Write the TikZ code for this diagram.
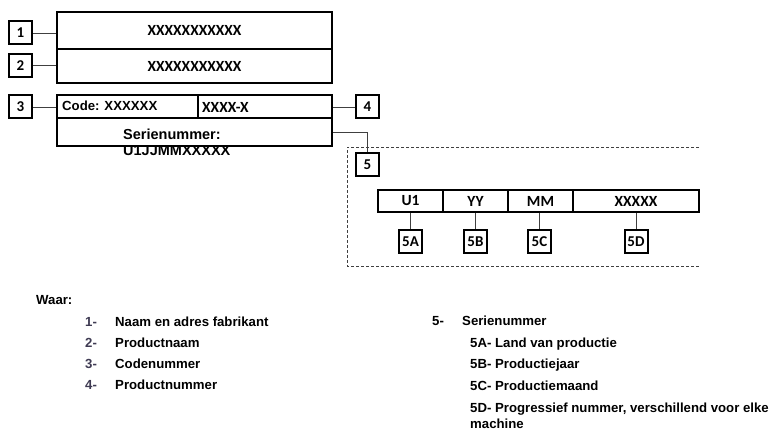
\documentclass[tikz,border=0pt]{standalone}
\usepackage{fontspec}
\newfontfamily\calfont{Carlito}
\newfontfamily\arfont{Liberation Sans}
\definecolor{numcol}{HTML}{3E3A52}
\definecolor{linecol}{HTML}{404040}
\begin{document}
\begin{tikzpicture}[x=1pt,y=-1pt,
  box/.style={draw=black,line width=2pt,inner sep=0pt,font=\calfont\bfseries\fontsize{15.5}{18}\selectfont},
  lab/.style={draw=black,line width=2pt,inner sep=0pt,minimum width=23,minimum height=23,font=\calfont\bfseries\fontsize{15}{18}\selectfont},
  conn/.style={draw=linecol,line width=0.9pt},
  dashbox/.style={draw=linecol,line width=0.8pt,dash pattern=on 3pt off 2pt},
  txt/.style={inner sep=0pt,anchor=west,font=\arfont\bfseries\fontsize{13.2}{15.5}\selectfont},
  num/.style={txt,text=numcol}]
\useasboundingbox (0,0) rectangle (774,430);
% top boxes
\node[box,minimum width=275,minimum height=37] (b1) at (194.5,30.5) {XXXXXXXXXXX};
\node[box,minimum width=275,minimum height=34] (b2) at (194.5,66) {XXXXXXXXXXX};
% code row
\node[box,minimum width=141,minimum height=23] (c3) at (127.5,106.5) {};
\node[box,minimum width=134,minimum height=23] (c4) at (265,106.5) {};
\node[box,minimum width=275,minimum height=28] (sn) at (194.5,132) {};
\node[txt] (c3t) at (62,105.5) {Code: XXXXXX};
\node[txt,font=\calfont\bfseries\fontsize{15.5}{18}\selectfont] (c4t) at (202,107) {XXXX-X};
\node[inner sep=0pt,anchor=north west,align=left,font=\arfont\bfseries\fontsize{14.5}{16}\selectfont] (snt) at (123,128.5) {Serienummer:\\U1JJMMXXXXX};
% labels
\node[lab] (l1) at (20.5,33) {1};
\node[lab] (l2) at (20.5,65.5) {2};
\node[lab] (l3) at (20.5,107) {3};
\node[lab] (l4) at (367.5,107) {4};
\node[lab] (l5) at (367.5,165) {5};
\draw[conn] (l1.east) -- (l1.east -| b1.west);
\draw[conn] (l2.east) -- (l2.east -| b2.west);
\draw[conn] (l3.east) -- (l3.east -| c3.west);
\draw[conn] (l4.west) -- (l4.west -| c4.east);
\draw[conn] (sn.east) -| (l5.north);
% dashed frame
\coordinate (dtr) at (699,147);
\coordinate (dbr) at (699,266);
\draw[dashbox] (dtr) -- (347,147) -- (347,266) -- (dbr);
% serial cells
\node[box,minimum width=65,minimum height=22] (u1) at (410.5,201) {U1};
\node[box,minimum width=65,minimum height=22] (yy) at (475.5,201) {YY};
\node[box,minimum width=65,minimum height=22] (mm) at (540.5,201) {MM};
\node[box,minimum width=126,minimum height=22] (xx) at (636,201) {XXXXX};
\node[lab] (l5a) at (410.5,241.5) {5A};
\node[lab] (l5b) at (475.5,241.5) {5B};
\node[lab] (l5c) at (539.5,241.5) {5C};
\node[lab] (l5d) at (636,241.5) {5D};
\draw[conn] (u1.south) -- (l5a.north);
\draw[conn] (yy.south) -- (l5b.north);
\draw[conn] (l5c.north |- mm.south) -- (l5c.north);
\draw[conn] (xx.south) -- (l5d.north);
% legend
\node[txt] (waar) at (36,300) {Waar:};
\node[num] (n1) at (85,322) {1-};
\node[txt] (t1) at (115,322) {Naam en adres fabrikant};
\node[num] (n2) at (85,343) {2-};
\node[txt] (t2) at (115,343) {Productnaam};
\node[num] (n3) at (85,364) {3-};
\node[txt] (t3) at (115,364) {Codenummer};
\node[num] (n4) at (85,385) {4-};
\node[txt] (t4) at (115,385) {Productnummer};
\node[txt] (n5) at (432,321) {5-};
\node[txt] (t5) at (462,321) {Serienummer};
\node[txt] (t5a) at (470,344) {5A- Land van productie};
\node[txt] (t5b) at (470,365) {5B- Productiejaar};
\node[txt] (t5c) at (470,386) {5C- Productiemaand};
\node[txt,anchor=north west,align=left] (t5d) at (470,403) {5D- Progressief nummer, verschillend voor elke\\machine};
\end{tikzpicture}
\end{document}
